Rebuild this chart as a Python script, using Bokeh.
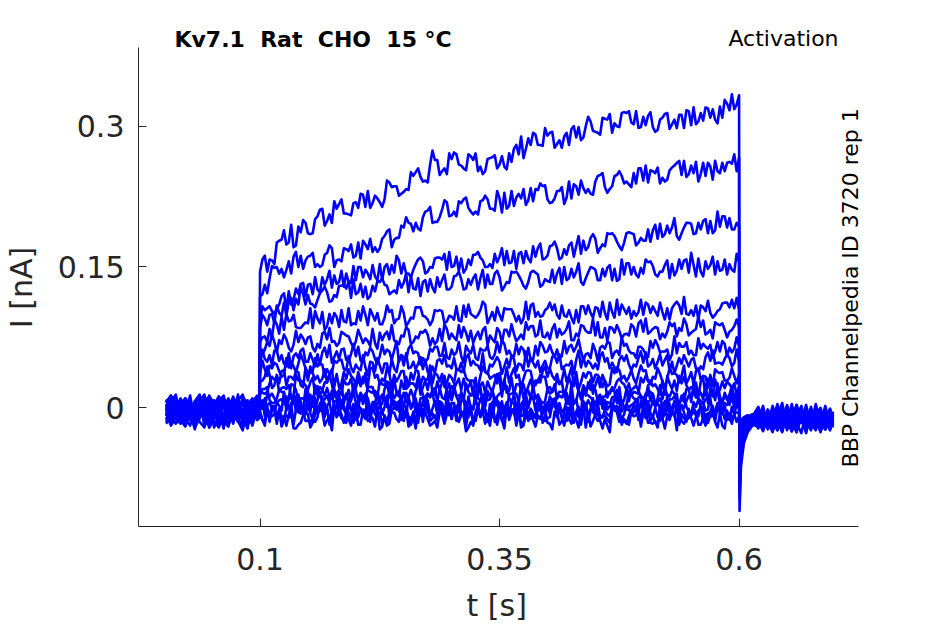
from bokeh.plotting import figure
from bokeh.models import Label, Range1d, FixedTicker, CustomJSTickFormatter
from bokeh.embed import file_html
from bokeh.resources import INLINE

# ---- time grids (s) ----
t_base = [round(0.002 + 0.005 * k, 4) for k in range(20)] + [0.0995]
t_step = [round(0.100 + 0.0025 * k, 5) for k in range(201)]
t_tail = [0.6005, 0.602, 0.605, 0.609, 0.614] + [round(0.62 + 0.005 * k, 4) for k in range(16)] + [0.698]

# ---- currents in pA (1e-3 nA) ----
# *_base: before the step (t_base)
# step samples: *_on at 0.100+0.01k, *_q1 at 0.1025+0.01k, *_mid at 0.105+0.01k, *_q3 at 0.1075+0.01k
# *_off: after the step (t_tail)
i01_base = [1,9,-10,-16,0,6,-19,-7,7,12,-9,-2,-14,-20,4,11,-6,-13,3,-11,4]
i01_on = [145,158,178,176,193,186,204,199,212,207,219,214,226,222,236,230,247,241,274,252,
          265,258,268,257,266,259,271,270,287,280,290,281,293,288,300,294,308,303,315,302,
          310,299,309,302,312,301,314,309,321,317,333]
i01_q1 = [158,157,179,195,187,185,211,206,217,206,213,231,223,242,236,233,251,242,264,255,
          272,255,264,249,267,268,262,289,280,280,293,285,280,299,310,293,307,300,314,316,
          301,294,313,307,298,320,306,318,309,334]
i01_mid = [162,153,189,171,200,186,212,197,222,205,228,213,219,240,226,232,255,240,264,249,
           270,253,271,252,269,257,276,266,293,279,294,277,297,285,305,291,313,299,316,298,
           311,296,314,298,317,302,320,307,328,318]
i01_q3 = [145,176,174,173,197,201,194,220,207,218,227,218,214,235,228,251,246,259,248,271,
          259,270,252,265,255,254,280,276,291,298,277,289,300,288,295,309,293,314,304,299,
          315,307,297,312,316,305,319,303,324,323]
i01_off = [-110,-62,-38,-26,-19,-13,2,-21,-6,-17,-1,-24,-9,3,-15,-4,-20,-8,0,-18,-11,-5]

i02_base = [-10,-16,3,8,-6,13,-13,-7,0,-21,-11,6,10,-4,-14,4,-9,-18,2,9,-6]
i02_on = [118,138,143,156,150,161,153,165,157,169,162,174,171,183,179,192,188,203,197,211,
          205,218,209,220,212,223,215,228,221,232,222,231,224,236,229,241,235,247,239,250,
          242,252,245,256,248,258,249,257,250,262,267]
i02_q1 = [121,151,148,143,162,162,150,173,158,167,176,169,166,188,181,203,197,209,198,221,
          209,222,206,221,212,208,231,223,234,239,218,231,241,227,233,247,229,248,241,239,
          258,250,241,258,263,250,261,243,261,260]
i02_mid = [131,149,139,161,148,165,152,170,156,174,159,180,170,190,181,197,191,210,198,219,
           204,224,209,226,210,229,215,233,220,236,219,235,223,242,228,248,233,252,238,255,
           240,256,243,261,246,262,247,263,252,270]
i02_q3 = [122,150,147,166,157,150,163,150,170,160,178,166,180,171,194,196,189,214,203,204,
          220,213,206,222,231,212,224,216,233,237,223,217,238,234,227,250,236,247,235,255,
          253,239,253,263,249,241,261,252,261,252]
i02_off = [-98,-55,-34,-22,-15,-7,-22,-2,-14,4,-19,-10,-25,-3,-12,-17,1,-21,-6,-14,-23,-8]

i03_base = [9,0,-11,-17,4,-5,-23,2,7,-9,-15,12,3,-18,-6,8,14,-14,-7,0,6]
i03_on = [92,108,110,124,121,131,126,137,132,143,136,147,140,150,144,154,147,156,149,158,
          150,159,152,160,153,161,154,164,159,170,162,170,163,172,168,180,172,183,176,185,
          178,189,182,192,186,196,190,199,193,202,193]
i03_q1 = [108,103,119,110,132,132,123,146,134,134,150,143,136,153,162,143,153,143,159,164,
          151,144,163,157,149,170,155,166,155,175,172,158,173,183,171,165,186,177,186,173,
          178,195,185,202,192,185,199,186,204,190]
i03_mid = [104,100,122,115,133,121,139,128,146,133,150,137,153,142,157,143,158,145,160,147,
           161,148,163,150,164,152,167,154,172,158,173,160,176,164,181,170,185,172,187,176,
           190,180,194,183,197,186,201,189,204,190]
i03_q3 = [106,106,105,127,119,139,131,141,129,151,139,152,136,152,143,139,160,150,160,166,
          146,158,166,150,155,167,148,167,161,159,177,169,161,178,185,174,186,168,186,181,
          177,196,186,179,197,197,186,209,192,197]
i03_off = [-88,-50,-31,-24,-18,-20,-3,-15,-26,-8,5,-18,-11,-22,-1,-13,-24,-6,-16,2,-19,-10]

i04_base = [-6,-19,-11,3,10,-7,-1,-15,-21,6,0,9,-10,-4,12,-13,-18,2,6,-9,-7]
i04_on = [85,99,101,113,110,120,115,123,118,127,121,129,124,131,125,133,127,134,128,136,
          129,137,131,138,132,139,133,141,134,142,135,143,136,145,138,147,140,148,142,150,
          143,151,145,153,148,165,145,152,146,153,155]
i04_q1 = [99,100,98,117,129,111,122,113,130,135,123,116,135,130,122,143,126,136,123,142,
          140,126,138,147,132,125,145,136,144,129,134,149,138,154,144,136,149,135,154,142,
          158,142,152,141,157,152,140,161,147,147]
i04_mid = [95,90,112,104,121,110,125,114,130,117,132,119,134,121,136,123,138,124,139,126,
           141,127,142,128,143,129,144,130,146,131,147,132,148,134,150,136,152,137,154,139,
           155,140,157,146,158,140,156,142,158,145]
i04_q3 = [88,109,98,116,110,107,129,120,131,137,118,130,138,123,128,140,119,137,129,126,
          145,137,126,142,146,134,145,127,144,137,133,150,139,131,149,148,136,158,142,149,
          156,145,138,158,144,159,148,156,142,164]
i04_off = [-80,-46,-29,-20,-13,0,-16,-9,-23,-4,-19,3,-13,-25,-7,-17,-2,-22,-11,-5,-20,-14]

i05_base = [6,13,-7,-15,-1,-9,7,14,-14,-6,3,-20,-11,2,10,-4,-10,-22,4,-1,9]
i05_on = [70,84,79,92,85,90,95,87,97,91,89,99,93,96,90,101,95,98,93,103,
          97,92,100,104,96,99,105,98,94,102,106,99,97,104,100,107,101,96,105,103,
          99,108,102,106,100,104,109,101,105,107,104]
i05_q1 = [75,75,97,93,85,106,90,100,86,106,103,88,101,109,94,87,107,97,104,90,
          94,109,98,113,102,93,105,90,109,97,112,95,104,91,109,106,94,115,100,98,
          112,103,94,110,118,98,107,96,111,115]
i05_mid = [76,94,83,99,88,85,102,90,104,88,93,105,89,102,95,91,107,94,103,92,
           108,97,96,110,93,106,99,95,111,98,104,109,96,108,101,97,112,99,107,102,
           110,98,106,113,100,109,103,99,112,106]
i05_q3 = [70,89,100,86,91,103,83,101,92,90,108,99,89,104,108,96,107,88,104,98,
          93,110,99,90,107,105,92,113,97,104,110,98,90,108,96,113,102,110,95,115,
          101,112,94,109,99,94,114,103,112,117]
i05_off = [-72,-42,-27,-19,-16,-12,-24,-5,-17,1,-21,-8,-14,-26,-3,-11,-19,4,-15,-23,-6,-13]

i06_base = [-15,-7,6,-1,-18,-11,4,12,-6,3,-14,-21,6,0,-9,14,-15,-7,7,-4,-3]
i06_on = [55,66,72,64,70,75,68,73,66,77,71,74,69,78,72,76,70,80,74,71,
          79,75,82,73,77,81,76,74,83,78,80,75,84,79,82,77,85,80,78,86,
          81,84,79,87,82,80,86,83,88,81,86]
i06_q1 = [57,78,68,60,78,76,64,85,69,76,83,71,63,81,69,86,76,83,68,89,
          75,86,69,83,73,69,89,78,87,93,73,84,92,76,80,91,71,88,79,76,
          95,86,75,90,95,82,93,74,90,83]
i06_mid = [62,70,78,67,74,64,79,70,81,69,76,66,80,73,68,83,74,78,71,84,
           72,80,76,86,70,83,79,73,87,76,84,78,72,88,80,75,86,82,77,90,
           79,85,81,76,89,84,78,91,83,87]
i06_q3 = [70,59,73,82,68,60,81,71,79,64,69,84,72,88,77,68,81,66,84,73,
          88,71,81,67,85,83,71,91,76,75,89,80,72,87,95,75,85,74,89,93,
          81,73,91,85,77,97,80,89,75,94]
i06_off = [-65,-38,-25,-17,-12,-22,-7,-18,2,-14,-25,-9,-3,-20,-12,-1,-17,-24,-6,-15,-10,-21]

i07_base = [-1,7,12,-9,-14,2,-21,-11,4,10,-6,0,-15,-10,8,3,-18,-6,6,13,1]
i07_on = [45,56,50,58,53,49,57,54,60,51,55,59,52,57,61,54,58,53,60,56,
          62,55,58,63,54,59,61,57,64,56,60,62,58,65,57,61,63,59,66,58,
          62,64,60,57,65,61,63,67,60,64,66]
i07_q1 = [62,46,56,42,61,58,46,67,52,50,65,56,47,62,71,51,60,49,65,69,
          56,48,67,61,52,72,55,65,51,70,67,52,65,73,58,50,70,61,68,53,
          57,72,60,76,65,56,68,53,71,59]
i07_mid = [52,61,47,55,63,51,59,48,62,57,50,64,55,60,49,63,58,52,65,54,
           59,66,53,61,57,68,55,62,51,66,59,55,67,60,53,64,69,56,61,65,
           54,67,62,58,70,56,65,60,68,63]
i07_q3 = [49,61,44,58,49,44,64,54,63,68,49,60,67,51,56,67,46,63,55,52,
          70,61,51,66,70,57,68,50,66,59,54,71,60,51,68,66,53,75,58,65,
          71,59,51,69,57,74,63,70,55,75]
i07_off = [-58,-35,-23,-18,-10,-4,-19,-13,-24,-2,-16,-8,-22,3,-14,-20,-5,-11,-26,-9,-1,-17]

i08_base = [-9,1,10,-13,-20,-6,6,-1,-14,13,4,-9,-17,7,-1,-11,-4,8,-15,-7,-4]
i08_on = [36,45,39,43,47,38,44,41,48,40,46,43,39,47,42,45,49,41,44,47,
          42,48,45,40,46,49,43,47,44,50,42,48,46,51,44,47,49,43,50,46,
          48,52,45,49,47,51,44,50,48,53,49]
i08_q1 = [50,42,33,49,57,37,47,36,51,55,42,35,53,47,38,58,41,51,37,56,
          53,38,50,58,44,36,56,46,53,38,42,57,45,61,50,41,53,38,56,44,
          59,42,51,37,56,53,41,61,46,44]
i08_mid = [41,48,35,44,50,39,46,37,51,43,40,49,45,36,52,42,47,38,50,44,
           41,53,46,39,49,44,52,40,48,45,54,41,50,43,47,55,42,51,46,53,
           44,49,56,45,50,42,54,47,52,48]
i08_q3 = [34,46,53,38,42,53,33,50,41,38,56,48,37,52,56,43,54,36,52,45,
          40,57,45,36,54,52,39,60,43,50,56,44,36,54,42,59,48,55,40,60,
          46,57,39,53,44,39,59,48,57,62]
i08_off = [-52,-31,-21,-14,-14,-17,-2,-23,-10,-6,-21,1,-15,-19,-8,-24,-12,-3,-18,-7,-22,-11]

i09_base = [4,-7,-17,-11,7,0,-10,8,14,-15,-9,-1,-22,3,10,-6,-11,0,-19,1,-9]
i09_on = [28,35,26,33,38,29,34,27,36,31,25,37,32,28,35,39,30,33,26,36,
          32,38,29,34,31,37,27,35,40,30,33,36,28,38,32,35,29,37,34,31,
          39,33,28,36,34,38,30,35,37,32,36]
i09_q1 = [29,21,39,33,24,44,27,36,22,41,38,23,35,43,28,20,40,30,37,22,
          26,41,29,44,33,24,36,21,39,27,42,25,34,20,38,35,23,43,28,26,
          40,31,22,37,45,25,34,23,38,42]
i09_mid = [33,24,40,30,22,37,31,41,26,34,29,42,25,36,33,23,39,30,35,27,
           41,32,24,38,35,28,42,31,26,39,34,29,43,27,37,31,25,40,33,36,
           28,42,30,35,26,39,33,41,29,34]
i09_q3 = [44,35,24,39,43,30,41,22,38,31,26,43,31,22,39,37,24,45,28,35,
          41,29,21,38,26,43,32,39,24,44,30,41,23,37,27,22,42,31,40,45,
          25,36,43,27,31,42,21,38,29,26]
i09_off = [-46,-28,-19,-16,-11,-6,-20,-14,-1,-24,-9,-16,4,-19,-12,-27,-5,-15,-21,-2,-13,-18]

i10_base = [-13,0,7,1,-10,-19,-4,3,10,-14,-7,6,13,-11,-4,4,-15,-9,7,-13,0]
i10_on = [20,26,17,24,29,19,23,27,16,25,21,28,18,24,30,20,26,22,17,27,
          23,19,28,24,21,29,18,25,23,27,20,30,22,26,19,24,28,21,25,17,
          27,23,29,20,26,22,28,24,19,25,23]
i10_q1 = [16,33,21,12,29,27,14,35,18,25,31,19,11,28,16,33,22,29,14,34,
          20,31,13,27,17,12,32,21,30,35,15,26,33,17,21,32,11,28,19,16,
          34,25,14,29,33,20,31,12,28,21]
i10_mid = [15,30,22,13,27,32,18,25,14,31,23,17,29,26,12,24,33,19,28,15,
           26,21,32,16,27,30,14,25,20,33,17,28,24,13,30,22,18,31,26,15,
           29,20,34,18,24,27,13,30,21,26]
i10_q3 = [17,32,20,35,24,15,27,12,30,18,33,16,25,11,29,26,14,34,19,17,
          31,22,13,28,36,16,25,14,29,33,20,12,30,24,15,35,18,27,13,32,
          29,14,26,34,19,11,31,21,28,13]
i10_off = [-40,-25,-17,-13,-9,-21,-11,-3,-18,-23,-7,-14,-25,-1,-16,-9,-20,-4,-24,-12,-6,-19]

i11_base = [0,-17,-9,3,-4,-13,6,13,-7,-11,-1,8,-18,-9,0,-14,12,4,-10,-4,10]
i11_on = [14,8,19,11,6,17,13,21,9,15,18,7,12,20,10,16,5,14,19,11,
          8,17,13,22,9,15,11,6,18,14,20,10,16,7,13,19,12,17,8,21,
          11,15,9,18,13,6,16,20,12,14,17]
i11_q1 = [20,5,17,25,10,2,22,12,19,4,8,23,11,26,15,6,18,3,21,9,
          24,7,16,2,20,17,5,25,10,8,22,13,4,19,27,7,16,5,20,24,
          11,3,21,15,6,26,9,18,4,23]
i11_mid = [20,5,16,24,10,3,19,12,25,7,16,22,4,13,18,9,24,15,6,20,
           12,26,8,17,3,21,14,10,23,5,17,11,25,9,19,4,15,22,7,18,
           24,10,14,3,20,12,25,8,16,11]
i11_q3 = [22,10,2,19,7,24,13,20,5,25,11,22,4,18,8,3,23,12,21,26,
          6,17,24,8,12,23,2,19,10,7,25,16,5,20,24,11,22,3,19,12,
          7,24,12,3,20,18,5,26,9,16]
i11_off = [-35,-22,-15,-12,-13,-3,-17,-22,-8,-13,-26,-4,-19,-10,2,-21,-15,-7,-23,-11,-2,-16]

i12_base = [-4,6,14,-11,-7,1,-15,-6,4,10,-21,-10,7,-1,-17,6,-7,3,10,-13,-11]
i12_on = [6,12,2,9,14,3,8,13,0,10,5,15,4,11,7,1,12,6,16,3,
          9,13,2,8,11,5,14,7,0,10,6,13,4,9,15,3,8,12,1,10,
          6,14,5,9,2,11,7,13,4,8,7]
i12_q1 = [4,15,-3,11,1,-4,16,5,14,19,-1,10,17,1,5,16,-5,12,3,0,
          18,9,-2,13,17,4,15,-4,12,5,0,17,5,-4,13,11,-2,19,2,9,
          15,3,-5,12,0,17,6,13,-2,18]
i12_mid = [-2,10,17,4,-3,12,6,18,-1,9,14,0,8,17,-4,11,3,15,7,-2,
           13,5,18,1,10,-3,16,6,12,-1,9,17,3,-5,11,14,2,8,18,0,
           13,4,-2,15,7,11,-3,16,5,10]
i12_q3 = [15,6,-3,12,20,0,9,-2,13,17,4,-4,14,8,-1,19,2,11,-3,16,
          13,-2,10,18,3,-5,15,5,12,-3,1,16,4,19,8,-1,11,-4,14,2,
          17,0,9,-5,13,10,-2,18,3,1]
i12_off = [-30,-20,-14,-10,-8,-15,-5,-20,-12,-24,-1,-18,-9,-22,-14,3,-19,-6,-25,-10,-17,-4]

i13_base = [7,-1,-6,-14,10,3,-17,-9,6,-4,3,12,-11,-19,1,8,-13,-1,-4,12,-10]
i13_on = [3,-4,8,-1,5,10,-3,2,7,-6,4,9,-2,1,6,-5,3,11,-1,5,
          -4,7,0,9,-3,4,-6,6,2,10,-2,3,8,-5,1,6,-3,9,0,5,
          -4,7,2,-1,8,-5,4,10,-2,3,2]
i13_q1 = [-1,-9,9,3,-6,14,-3,6,-8,11,8,-7,5,13,-2,-10,10,0,7,-8,
          -4,11,-1,14,3,-6,6,-9,9,-3,12,-5,4,-10,8,5,-7,13,-2,-4,
          10,1,-8,7,15,-5,4,-7,8,12]
i13_mid = [10,-7,4,13,-5,1,12,-8,6,-2,11,-6,7,-9,4,12,-3,8,-7,13,
           2,-10,9,-4,11,-1,5,-8,12,-5,7,-3,14,-6,3,10,-9,4,-2,11,
           -7,6,13,-4,1,-8,9,-3,12,0]
i13_q3 = [-6,5,12,-4,0,11,-10,7,-2,-5,13,4,-7,8,12,-1,10,-9,7,0,
          -5,12,0,-9,8,6,-7,14,-3,4,10,-2,-10,7,-5,12,1,8,-7,13,
          -1,10,-8,6,-4,-9,11,0,9,14]
i13_off = [-26,-18,-13,-11,-12,-9,-23,-2,-16,-11,-20,-6,-25,-13,0,-18,-8,-22,-3,-15,-24,-7]

i14_base = [-7,13,4,-10,-15,1,-2,7,-11,-6,8,-17,-9,3,-4,-13,-21,1,6,-6,-1]
i14_on = [-1,5,-8,0,-5,3,-10,-2,4,-7,1,-4,6,-9,-1,3,-6,2,-11,-3,
          5,-5,0,-8,4,-2,-7,2,-12,-1,3,-6,1,-4,5,-9,-2,2,-7,4,
          -3,-10,0,-5,3,-8,1,-4,6,-6,-2]
i14_q1 = [8,-1,-12,3,7,-6,5,-14,2,-5,-10,7,-5,-14,3,1,-12,9,-8,-1,
          5,-7,-15,2,-10,7,-4,3,-12,8,-6,5,-13,1,-9,-14,6,-5,4,9,
          -11,0,7,-9,-5,6,-15,2,-7,-10]
i14_mid = [-9,2,-14,6,-6,-12,1,-4,8,-11,-1,-15,3,-7,7,-10,-3,5,-13,0,
           -8,6,-14,-2,4,-11,-6,8,-9,-16,2,-5,9,-12,-1,-8,5,-15,0,-6,
           7,-10,-3,4,-13,1,-7,-14,3,-9]
i14_q3 = [3,-12,0,8,-7,-15,5,-5,2,-13,-9,6,-6,9,-2,-11,1,-14,4,-8,
          7,-10,-1,-15,3,0,-12,8,-7,-9,5,-4,-13,2,10,-10,-1,-12,3,7,
          -6,-14,4,-2,-11,9,-8,1,-13,6]
i14_off = [-22,-16,-12,-9,-7,-18,-4,-14,-21,-9,1,-17,-12,-26,-5,-20,-10,-2,-16,-23,-8,-13]

i15_base = [3,-13,-6,10,1,-9,-14,4,-1,-21,-11,6,0,10,-7,-15,7,-9,-18,4,-6]
i15_on = [-4,-12,-1,-8,-3,-14,-6,0,-10,-5,-13,-2,-7,-11,1,-9,-4,-15,-6,-1,
          -12,-8,-3,-10,-5,2,-13,-7,-9,-2,-11,-4,-14,-6,0,-10,-8,-3,-12,-5,
          -1,-9,-13,-4,-7,-11,-2,-8,-6,-10,-6]
i15_q1 = [-13,2,-10,5,-6,-15,-3,-18,0,-12,3,-14,-5,-19,-1,-4,-16,4,-11,-13,
          1,-8,-17,-2,6,-14,-5,-16,-1,3,-10,-18,0,-6,-15,5,-12,-3,-17,2,
          -1,-16,-4,4,-11,-19,1,-9,-2,-17]
i15_mid = [-15,0,-9,-18,-3,-11,2,-14,-7,-19,-1,-12,-5,-17,3,-10,-16,-4,-13,0,
           -8,-20,-5,-2,-15,-9,-1,-17,-6,-12,4,-14,-8,-18,-3,-11,-16,1,-9,-13,
           -4,-19,-7,-1,-15,-10,-17,-3,-12,-5]
i15_q3 = [1,-11,-19,-2,-14,3,-8,-1,-16,4,-10,1,-17,-3,-13,-18,2,-9,0,5,
          -15,-4,3,-13,-9,2,-19,-2,-11,-14,4,-5,-16,-1,3,-10,1,-18,-2,-9,
          -14,3,-9,-18,-1,-3,-16,5,-12,-5]
i15_off = [-19,-15,-11,-13,-9,1,-13,-20,-7,-16,-24,-3,-11,-18,-9,-22,-1,-14,-25,-6,-19,-12]

i16_base = [-17,-9,1,9,-11,0,-10,6,-19,-13,3,-4,12,-7,4,-14,-24,0,6,-9,3]
i16_on = [-6,-15,-3,-11,-18,-7,-2,-13,-9,-16,-4,-12,-20,-8,-5,-14,-10,-1,-17,-7,
          -12,-4,-15,-9,-19,-6,-11,-3,-14,-8,-16,-10,-5,-13,-21,-7,-12,-2,-15,-9,
          -6,-17,-11,-4,-14,-8,-18,-10,-6,-13,-9]
i16_q1 = [-13,-2,-20,-6,-16,-21,-1,-12,-3,2,-18,-7,0,-16,-12,-1,-22,-5,-14,-17,
          1,-8,-19,-4,0,-13,-2,-21,-5,-12,-17,0,-12,-21,-4,-6,-19,2,-15,-8,
          -2,-14,-22,-5,-17,0,-11,-4,-19,1]
i16_mid = [-19,-2,-13,-22,-8,-16,-4,-24,-11,-1,-18,-9,-23,-6,-15,-20,-3,-12,-21,-7,
           -14,-25,-5,-17,-10,-22,-2,-19,-13,-6,-23,-11,-17,-4,-20,-14,-26,-8,-18,-1,
           -16,-21,-9,-24,-12,-5,-19,-15,-22,-7]
i16_q3 = [0,-17,-8,-22,-4,-7,-19,1,-14,-16,-2,-11,-20,-5,3,-17,-8,-19,-4,0,
          -13,-21,-3,-9,-18,2,-15,-6,-20,-1,-4,-19,-7,1,-14,-22,-2,-12,-5,-20,
          -16,-1,-13,2,-9,-18,-6,-21,-3,-15]
i16_off = [-16,-13,-10,-8,-11,-14,-25,-6,-19,-2,-12,-21,-8,-16,-27,-4,-13,-20,-10,-23,-5,-15]

sweeps = [
    (i01_base, i01_on, i01_q1, i01_mid, i01_q3, i01_off),
    (i02_base, i02_on, i02_q1, i02_mid, i02_q3, i02_off),
    (i03_base, i03_on, i03_q1, i03_mid, i03_q3, i03_off),
    (i04_base, i04_on, i04_q1, i04_mid, i04_q3, i04_off),
    (i05_base, i05_on, i05_q1, i05_mid, i05_q3, i05_off),
    (i06_base, i06_on, i06_q1, i06_mid, i06_q3, i06_off),
    (i07_base, i07_on, i07_q1, i07_mid, i07_q3, i07_off),
    (i08_base, i08_on, i08_q1, i08_mid, i08_q3, i08_off),
    (i09_base, i09_on, i09_q1, i09_mid, i09_q3, i09_off),
    (i10_base, i10_on, i10_q1, i10_mid, i10_q3, i10_off),
    (i11_base, i11_on, i11_q1, i11_mid, i11_q3, i11_off),
    (i12_base, i12_on, i12_q1, i12_mid, i12_q3, i12_off),
    (i13_base, i13_on, i13_q1, i13_mid, i13_q3, i13_off),
    (i14_base, i14_on, i14_q1, i14_mid, i14_q3, i14_off),
    (i15_base, i15_on, i15_q1, i15_mid, i15_q3, i15_off),
    (i16_base, i16_on, i16_q1, i16_mid, i16_q3, i16_off),
]

x_ticks = [0.1, 0.35, 0.6]
y_ticks = [0, 0.15, 0.3]

title_text = "Kv7.1\u00a0 Rat\u00a0 CHO\u00a0 15 °C"
right_text = "Activation"
side_text = "BBP Channelpedia ID 3720 rep 1"
x_label = "t [s]\u00a0"
y_label = "I [nA]\u00a0\u00a0"

FONT = "DejaVu Sans"
GREY = "#262626"

p = figure(frame_width=726, frame_height=497,
           x_range=Range1d(-0.02683, 0.7309), y_range=Range1d(-0.1265, 0.4030),
           output_backend="svg", toolbar_location=None,
           min_border_left=130, min_border_right=73, min_border_top=29, min_border_bottom=90)
p.outline_line_color = None
p.grid.visible = False
p.background_fill_color = "white"
p.border_fill_color = "white"

for base, on, q1, mid, q3, off in sweeps:
    step = []
    for k in range(len(on)):
        step.append(on[k])
        if k < len(mid):
            step.extend([q1[k], mid[k], q3[k]])
    n_b = min(len(base), len(t_base))
    n_s = min(len(step), len(t_step))
    n_o = min(len(off), len(t_tail))
    ts = t_base[:n_b] + t_step[:n_s] + t_tail[:n_o]
    vs = base[:n_b] + step[:n_s] + off[:n_o]
    p.line(ts, [v / 1000.0 for v in vs], line_color="#0000ff",
           line_width=2.6, line_join="round")

fmt = CustomJSTickFormatter(code="return String(Math.round(tick*1000)/1000);")
for ax, ticks, lab in ((p.xaxis[0], x_ticks, x_label), (p.yaxis[0], y_ticks, y_label)):
    ax.ticker = FixedTicker(ticks=ticks)
    ax.formatter = fmt
    ax.axis_label = lab
    ax.axis_label_text_font = FONT
    ax.axis_label_text_font_size = "30px"
    ax.axis_label_text_font_style = "normal"
    ax.axis_label_text_color = GREY
    ax.major_label_text_font = FONT
    ax.major_label_text_font_size = "30px"
    ax.major_label_text_color = GREY
    ax.axis_line_color = GREY
    ax.major_tick_line_color = GREY
    ax.major_tick_in = 8
    ax.major_tick_out = 0
    ax.minor_tick_line_color = None
p.xaxis[0].bounds = (-0.0268, 0.7248)
p.yaxis[0].bounds = (-0.1265, 0.3842)
p.xaxis[0].major_label_standoff = 21
p.xaxis[0].axis_label_standoff = 15
p.yaxis[0].major_label_standoff = 14
p.yaxis[0].axis_label_standoff = 16

p.add_layout(Label(x=0.0107, y=0.3923, text=title_text, text_font=FONT, text_font_size="22px",
                   text_font_style="bold", text_color="black", text_align="left",
                   text_baseline="alphabetic"))
p.add_layout(Label(x=0.7038, y=0.3934, text=right_text, text_font=FONT, text_font_size="22px",
                   text_color="black", text_align="right", text_baseline="alphabetic"))
p.add_layout(Label(x=0.7165, y=-0.0636, text=side_text, text_font=FONT, text_font_size="22px",
                   text_color="black", text_align="left", text_baseline="alphabetic",
                   angle=90, angle_units="deg"))

open("out.html", "w").write(file_html(p, INLINE))
